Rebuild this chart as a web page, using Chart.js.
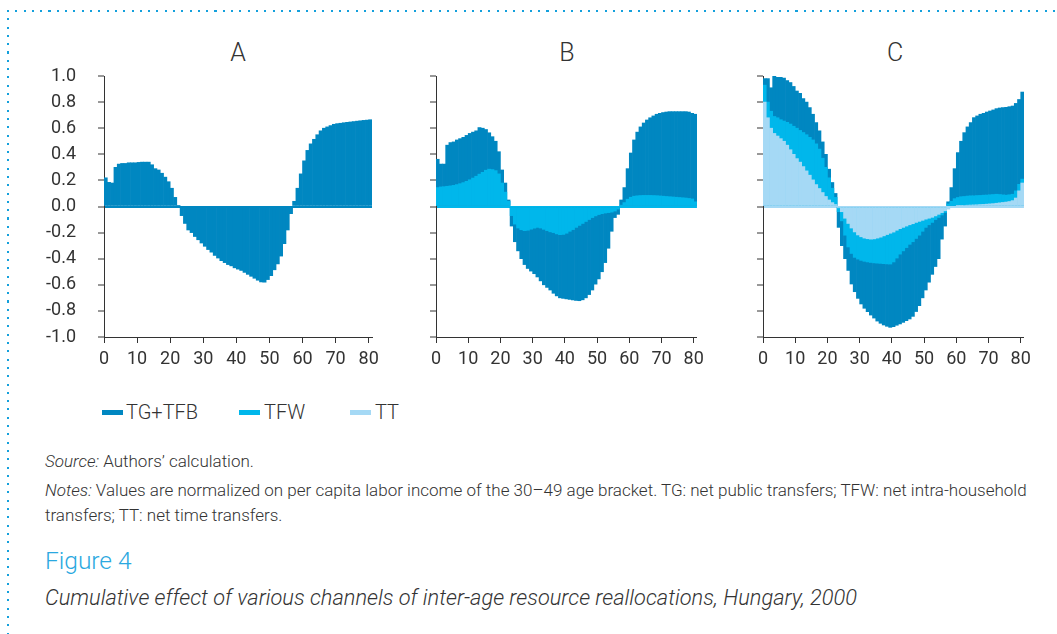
<!DOCTYPE html>
<html lang="en">
<head>
<meta charset="UTF-8">
<title>Figure 4</title>
<script src="https://cdn.jsdelivr.net/npm/chart.js"></script>
<style>
  body { margin: 0; background: #fff; }
  .page { position: relative; width: 1057px; height: 634px; overflow: hidden;
          font-family: Roboto, "Liberation Sans", sans-serif; font-weight: 300; color: #333; }
  .dotsTop { position: absolute; left: 7px; top: 10px; width: 1050px; height: 2px;
             background: repeating-linear-gradient(to right, #14a0dc 0 2px, transparent 2px 8.3px); }
  .dotsLeft { position: absolute; left: 7px; top: 10px; width: 2px; height: 624px;
              background: repeating-linear-gradient(to bottom, #14a0dc 0 2px, transparent 2px 8.3px); }
  canvas { position: absolute; }
  .ttl { position: absolute; top: 40px; width: 40px; margin-left: -20px; text-align: center;
         font-size: 25px; line-height: 25px; }
  .leg { position: absolute; top: 401px; font-size: 20px; line-height: 22px; white-space: nowrap; }
  .sw { position: absolute; top: 410px; width: 21px; height: 5px; }
  .src { position: absolute; left: 45px; top: 449px; font-size: 17px; line-height: 24px; white-space: nowrap; }
  .notes { position: absolute; left: 45px; top: 478px; font-size: 17px; line-height: 25px; white-space: nowrap; }
  .fig { position: absolute; left: 45px; top: 548px; font-size: 24.5px; line-height: 26px; color: #2aa8e0; }
  .cap { position: absolute; left: 45px; top: 585px; font-size: 21.8px; line-height: 26px; font-style: italic; white-space: nowrap; }
</style>
</head>
<body>
<div class="page">
  <div class="dotsTop"></div>
  <div class="dotsLeft"></div>

  <div class="ttl" style="left:238px">A</div>
  <div class="ttl" style="left:567px">B</div>
  <div class="ttl" style="left:895px">C</div>

  <canvas id="chartA" width="390" height="360" style="left:0px;top:30px"></canvas>
  <canvas id="chartB" width="290" height="360" style="left:420px;top:30px"></canvas>
  <canvas id="chartC" width="290" height="360" style="left:747px;top:30px"></canvas>

  <div class="sw" style="left:102px;background:#0087c1"></div>
  <div class="leg" style="left:126px">TG+TFB</div>
  <div class="sw" style="left:239px;background:#00b7eb"></div>
  <div class="leg" style="left:264px">TFW</div>
  <div class="sw" style="left:350px;background:#a5d9f5"></div>
  <div class="leg" style="left:375px">TT</div>

  <div class="src"><i>Source:</i> Authors’ calculation.</div>
  <div class="notes"><i>Notes:</i> Values are normalized on per capita labor income of the 30–49 age bracket. TG: net public transfers; TFW: net intra-household<br>transfers; TT: net time transfers.</div>
  <div class="fig">Figure 4</div>
  <div class="cap">Cumulative effect of various channels of inter-age resource reallocations, Hungary, 2000</div>
</div>

<script>
    // ages 0..80
    const ages = Array.from({ length: 81 }, (_, i) => i);
    const xTicks = [0, 10, 20, 30, 40, 50, 60, 70, 80];

    // panel A: TG+TFB
    const tgA = [
        0.22, 0.185, 0.18, 0.30, 0.325, 0.33, 0.33, 0.335, 0.335, 0.335,
        0.338, 0.34, 0.34, 0.34, 0.32, 0.29, 0.28, 0.255, 0.225, 0.19,
        0.14, 0.07, 0.005, -0.07, -0.13, -0.18, -0.2, -0.23, -0.255, -0.28,
        -0.305, -0.33, -0.35, -0.375, -0.395, -0.415, -0.43, -0.445, -0.455, -0.47,
        -0.48, -0.49, -0.505, -0.52, -0.535, -0.55, -0.565, -0.578, -0.58, -0.56,
        -0.53, -0.485, -0.44, -0.38, -0.285, -0.18, -0.055, 0.04, 0.14, 0.25,
        0.35, 0.43, 0.48, 0.515, 0.55, 0.58, 0.6, 0.61, 0.62, 0.63,
        0.635, 0.638, 0.642, 0.645, 0.648, 0.651, 0.654, 0.657, 0.66, 0.662,
        0.665
    ];

    // panel B: TG+TFB and TFW
    const tgB = [
        0.362, 0.325, 0.325, 0.47, 0.49, 0.495, 0.51, 0.52, 0.53, 0.545,
        0.56, 0.57, 0.58, 0.605, 0.6, 0.59, 0.565, 0.535, 0.5, 0.42,
        0.28, 0.18, 0.05, -0.15, -0.27, -0.34, -0.40, -0.445, -0.475, -0.495,
        -0.515, -0.54, -0.57, -0.6, -0.62, -0.64, -0.665, -0.685, -0.7, -0.704,
        -0.708, -0.712, -0.716, -0.72, -0.722, -0.715, -0.7, -0.675, -0.64, -0.595,
        -0.555, -0.5, -0.43, -0.32, -0.19, -0.085, -0.06, 0.05, 0.145, 0.29,
        0.41, 0.51, 0.57, 0.61, 0.64, 0.663, 0.68, 0.694, 0.707, 0.714,
        0.72, 0.724, 0.727, 0.727, 0.727, 0.727, 0.727, 0.727, 0.724, 0.714,
        0.707
    ];
    const tfwB = [
        0.145, 0.15, 0.152, 0.155, 0.158, 0.162, 0.168, 0.175, 0.183, 0.193,
        0.205, 0.218, 0.232, 0.248, 0.262, 0.278, 0.286, 0.283, 0.275, 0.25,
        0.18, 0.11, 0.04, -0.07, -0.135, -0.165, -0.178, -0.185, -0.182, -0.174,
        -0.166, -0.16, -0.165, -0.175, -0.185, -0.194, -0.2, -0.21, -0.216, -0.214,
        -0.205, -0.19, -0.177, -0.16, -0.145, -0.13, -0.115, -0.1, -0.085, -0.072,
        -0.062, -0.055, -0.05, -0.047, -0.043, -0.035, -0.02, 0.01, 0.03, 0.056,
        0.071, 0.079, 0.082, 0.084, 0.085, 0.085, 0.085, 0.084, 0.083, 0.081,
        0.079, 0.077, 0.075, 0.073, 0.071, 0.069, 0.067, 0.065, 0.062, 0.058,
        0.036
    ];

    // panel C: TG+TFB, TFW and TT
    const tgC = [
        0.98, 0.98, 0.91, 1.0, 0.99, 0.99, 0.985, 0.965, 0.95, 0.92,
        0.885, 0.867, 0.827, 0.8, 0.758, 0.707, 0.643, 0.58, 0.495, 0.4,
        0.286, 0.184, 0.1, -0.16, -0.3, -0.4, -0.49, -0.594, -0.653, -0.704,
        -0.747, -0.78, -0.806, -0.832, -0.855, -0.878, -0.895, -0.908, -0.918, -0.926,
        -0.921, -0.91, -0.9, -0.888, -0.875, -0.862, -0.842, -0.805, -0.76, -0.7,
        -0.64, -0.58, -0.52, -0.46, -0.4, -0.25, -0.15, 0.036, 0.145, 0.29,
        0.413, 0.5, 0.566, 0.61, 0.643, 0.681, 0.694, 0.707, 0.714, 0.724,
        0.732, 0.74, 0.75, 0.755, 0.758, 0.76, 0.765, 0.77, 0.79, 0.82,
        0.877
    ];
    const tfwC = [
        0.93, 0.8, 0.73, 0.69, 0.68, 0.665, 0.655, 0.645, 0.632, 0.615,
        0.6, 0.583, 0.567, 0.55, 0.53, 0.51, 0.48, 0.44, 0.37, 0.3,
        0.22, 0.14, 0.07, -0.04, -0.11, -0.22, -0.31, -0.36, -0.39, -0.403,
        -0.413, -0.42, -0.425, -0.429, -0.432, -0.434, -0.436, -0.438, -0.44, -0.441,
        -0.425, -0.395, -0.365, -0.34, -0.315, -0.29, -0.27, -0.245, -0.22, -0.19,
        -0.16, -0.14, -0.122, -0.1, -0.084, -0.065, -0.046, 0.02, 0.04, 0.06,
        0.069, 0.075, 0.077, 0.08, 0.082, 0.082, 0.084, 0.085, 0.087, 0.088,
        0.09, 0.092, 0.094, 0.092, 0.089, 0.087, 0.09, 0.094, 0.12, 0.17,
        0.21
    ];
    const ttC = [
        0.8, 0.68, 0.6, 0.56, 0.54, 0.52, 0.5, 0.47, 0.435, 0.4,
        0.367, 0.34, 0.306, 0.273, 0.24, 0.204, 0.168, 0.138, 0.107, 0.077,
        0.05, 0.03, 0.015, -0.01, -0.04, -0.09, -0.13, -0.165, -0.195, -0.218,
        -0.232, -0.242, -0.247, -0.25, -0.248, -0.242, -0.235, -0.225, -0.215, -0.205,
        -0.196, -0.182, -0.17, -0.16, -0.15, -0.14, -0.132, -0.122, -0.114, -0.106,
        -0.097, -0.09, -0.083, -0.072, -0.06, -0.047, -0.033, -0.02, -0.008, 0.0,
        0.004, 0.006, 0.008, 0.01, 0.011, 0.012, 0.013, 0.015, 0.016, 0.018,
        0.02, 0.022, 0.025, 0.028, 0.031, 0.034, 0.038, 0.045, 0.065, 0.12,
        0.18
    ];

    const FONT = 'Roboto, "Liberation Sans", sans-serif';
    const AXIS = '#333333';
    const DARK = '#0087c1';
    const MID = '#00b7eb';
    const LIGHT = '#a5d9f5';

    function serie(label, data, cor, ordem) {
        return {
            label: label,
            data: data,
            backgroundColor: cor,
            borderWidth: 0,
            barPercentage: 1,
            categoryPercentage: 1,
            grouped: false,
            order: ordem,
            xAxisID: 'x'
        };
    }

    function desenhar(id, datasets, yWidth, padRight, mostrarY, corZero) {
        const ctx = document.getElementById(id).getContext('2d');
        return new Chart(ctx, {
            type: 'bar',
            data: { labels: ages, datasets: datasets },
            options: {
                responsive: false,
                animation: false,
                devicePixelRatio: 1,
                layout: { padding: { left: 0, right: padRight, top: 46, bottom: 8 } },
                plugins: { legend: { display: false }, tooltip: { enabled: false } },
                scales: {
                    x: { type: 'category', display: false, offset: true },
                    xt: {
                        type: 'linear', position: 'bottom', min: 0, max: 81, offset: false,
                        afterBuildTicks: s => { s.ticks = xTicks.map(v => ({ value: v })); },
                        afterFit: s => { s.height = 45; },
                        border: { display: true, color: AXIS, width: 1 },
                        grid: { offset: false, drawOnChartArea: false, drawTicks: true, tickLength: 6, tickColor: AXIS, tickWidth: 1 },
                        ticks: { color: '#333', padding: 6, maxRotation: 0, autoSkip: false, font: { family: FONT, size: 18 } }
                    },
                    y: {
                        min: -1, max: 1,
                        afterFit: s => { s.width = yWidth; },
                        border: { display: true, color: AXIS, width: 1 },
                        grid: {
                            drawOnChartArea: true, drawTicks: true, tickLength: 6, tickColor: AXIS, tickWidth: 1,
                            color: c => (c.tick && c.tick.value === 0) ? corZero : 'rgba(0,0,0,0)',
                            lineWidth: c => (c.tick && c.tick.value === 0) ? 2 : 0
                        },
                        ticks: {
                            stepSize: 0.2, padding: 22, color: '#333',
                            font: { family: FONT, size: 18 },
                            callback: v => mostrarY ? (Math.round(v * 10) / 10).toFixed(1) : ''
                        }
                    }
                }
            }
        });
    }

    Chart.defaults.font.family = FONT;

    desenhar('chartA', [serie('TG+TFB', tgA, DARK, 3)], 104, 18, true, DARK);
    desenhar('chartB', [serie('TG+TFB', tgB, DARK, 3), serie('TFW', tfwB, MID, 2)], 16, 12, false, MID);
    desenhar('chartC', [serie('TG+TFB', tgC, DARK, 3), serie('TFW', tfwC, MID, 2), serie('TT', ttC, LIGHT, 1)], 16, 10, false, LIGHT);
</script>
</body>
</html>
